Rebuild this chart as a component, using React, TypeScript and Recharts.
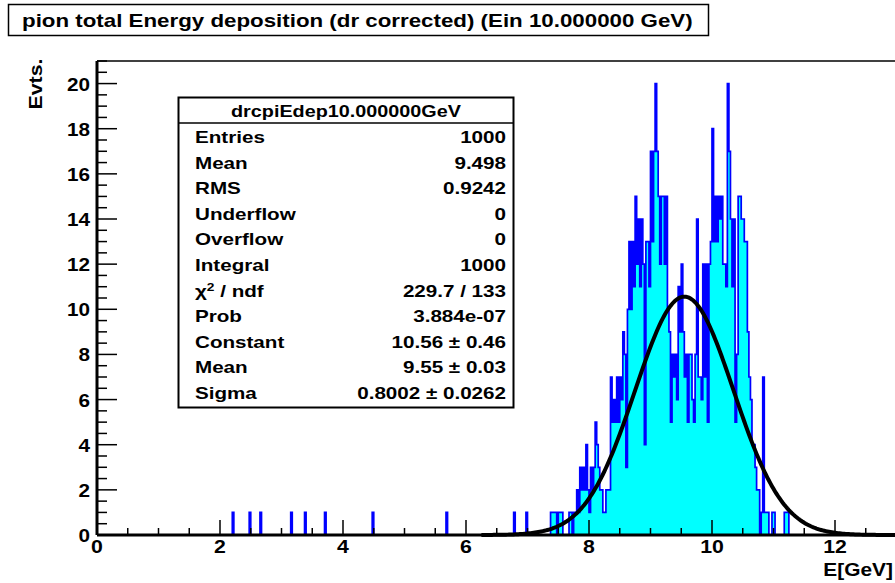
import { ComposedChart, Area, Line, XAxis, YAxis, ReferenceLine } from 'recharts';

// histogram binning: 0..13 GeV in 0.025 GeV bins
const BIN_W = 0.025;
const N_BINS = 520;
const X_MAX = 13;
const Y_MAX = 21;

// isolated single entries far below the peak (bin positions, GeV)
const tailEntries = [2.22, 2.49, 2.66, 3.15, 3.39, 3.71, 4.49, 5.69, 6.78, 6.99];

// bin contents starting at 7.2 GeV
const CORE_START = 7.2;
const coreCounts = [
  0, 0, 0, 0, 0, 0, 0, 1, 1, 1, 1, 0, 1, 1, 1, 0, 0, 0, 0, 1,
  1, 0, 1, 1, 2, 1, 3, 2, 3, 2, 4, 2, 1, 3, 2, 3, 5, 4, 3, 2,
  2, 1, 1, 2, 2, 2, 7, 5, 6, 5, 7, 5, 7, 6, 9, 8, 3, 10, 13, 10,
  13, 11, 15, 12, 14, 11, 14, 12, 4, 13, 13, 11, 17, 13, 17, 20, 17, 15, 12, 15,
  15, 12, 15, 10, 9, 5, 8, 7, 8, 6, 11, 9, 12, 9, 7, 8, 5, 8, 8, 6,
  5, 8, 14, 7, 7, 6, 12, 7, 12, 5, 12, 13, 18, 13, 15, 13, 15, 14, 15, 12,
  12, 11, 20, 17, 14, 11, 14, 5, 8, 15, 15, 14, 14, 13, 13, 9, 7, 6, 4, 4,
  3, 2, 2, 0, 1, 7, 1, 1, 1, 0, 0, 1, 1, 0, 0, 0, 0, 0, 0, 1,
  1, 1, 0, 0,
];

// gaussian fit result
const FIT_CONST = 10.56;
const FIT_MEAN = 9.55;
const FIT_SIGMA = 0.8002;
const FIT_FROM = 6.25;

const statLabels = ['Entries', 'Mean', 'RMS', 'Underflow', 'Overflow', 'Integral', 'chi2', 'Prob', 'Constant', 'Mean', 'Sigma'];
const statValues = ['1000', '9.498', '0.9242', '0', '0', '1000', '229.7 / 133', '3.884e-07', '10.56 \u00b1 0.46', '9.55 \u00b1 0.03', '0.8002 \u00b1 0.0262'];

const TITLE = 'pion total Energy deposition (dr corrected) (Ein 10.000000 GeV)';
const STAT_NAME = 'drcpiEdep10.000000GeV';

const counts = new Array(N_BINS).fill(0);
tailEntries.forEach(u => { counts[Math.floor(u / BIN_W + 1e-6)] += 1; });
const coreIdx = Math.round(CORE_START / BIN_W);
coreCounts.forEach((c, i) => { counts[coreIdx + i] += c; });

const gaus = (x: number) => FIT_CONST * Math.exp(-0.5 * ((x - FIT_MEAN) / FIT_SIGMA) ** 2);

const data = Array.from({ length: N_BINS + 1 }, (_, i) => {
  const x = i * BIN_W;
  return {
    x,
    n: i < N_BINS ? counts[i] : 0,
    fit: x >= FIT_FROM - 1e-9 ? gaus(x) : null,
  };
});

const xTicks = Array.from({ length: 27 }, (_, i) => i * 0.5);
const yTicks = Array.from({ length: 43 }, (_, i) => i * 0.5);

const FONT = '"Liberation Sans", Arial, Helvetica, sans-serif';

// bold helvetica-ish text, stretched horizontally
function SText({ x, y, size, sx = 1.12, anchor = 'start', rotate = 0, children }: any) {
  const rot = rotate ? ` rotate(${rotate})` : '';
  return (
    <text
      transform={`translate(${x},${y})${rot} scale(${sx},1)`}
      textAnchor={anchor}
      fontFamily={FONT}
      fontWeight="bold"
      fontSize={size}
      fill="#000"
    >
      {children}
    </text>
  );
}

const XTick = (props: any) => {
  const { x, y, payload } = props;
  const v = payload.value;
  const major = Math.abs(v % 2) < 1e-9;
  return (
    <g>
      <line x1={x} x2={x} y1={y} y2={y - (major ? 15 : 7)} stroke="#000" strokeWidth={1.5} />
      {major && <SText x={x} y={y + 18} size={19} anchor="middle">{v}</SText>}
    </g>
  );
};

const YTick = (props: any) => {
  const { x, y, payload } = props;
  const v = payload.value;
  const major = Math.abs(v % 2) < 1e-9 && v <= 20;
  return (
    <g>
      <line x1={x} x2={x + (major ? 20 : 10)} y1={y} y2={y} stroke="#000" strokeWidth={1.5} />
      {major && <SText x={x - 7} y={y + 7} size={18.5} anchor="end">{v}</SText>}
    </g>
  );
};

export default function App() {
  const rowY0 = 143;
  const rowStep = 25.6;
  return (
    <div style={{ position: 'fixed', left: 0, top: 0, width: 895, height: 583, overflow: 'hidden', background: '#fff' }}>
      <ComposedChart width={910} height={583} data={data} margin={{ top: 61, right: 13.5, left: 0, bottom: 0 }}>
        <Area
          type="stepAfter"
          dataKey="n"
          stroke="#0000ff"
          strokeWidth={1.7}
          fill="#00ffff"
          fillOpacity={1}
          dot={false}
          activeDot={false}
          isAnimationActive={false}
        />
        <Line
          type="linear"
          dataKey="fit"
          stroke="#000"
          strokeWidth={4}
          dot={false}
          activeDot={false}
          isAnimationActive={false}
        />
        <ReferenceLine y={Y_MAX} stroke="#000" strokeWidth={1.5} />
        <XAxis
          type="number"
          dataKey="x"
          domain={[0, X_MAX]}
          ticks={xTicks}
          interval={0}
          height={48}
          tickSize={0}
          tickMargin={0}
          tickLine={false}
          axisLine={{ stroke: '#000', strokeWidth: 3 }}
          tick={XTick}
        />
        <YAxis
          type="number"
          domain={[0, Y_MAX]}
          ticks={yTicks}
          interval={0}
          width={97}
          tickSize={0}
          tickMargin={0}
          tickLine={false}
          axisLine={{ stroke: '#000', strokeWidth: 3 }}
          tick={YTick}
        />
      </ComposedChart>

      <svg width={895} height={583} style={{ position: 'absolute', left: 0, top: 0 }}>
        {/* title box */}
        <rect x={8.5} y={4.5} width={700} height={31} fill="#fff" stroke="#000" strokeWidth={1.5} />
        <SText x={22} y={27} size={18} sx={1.24}>{TITLE}</SText>

        {/* axis titles */}
        <SText x={42} y={84} size={18.5} sx={1.15} rotate={-90} anchor="middle">Evts.</SText>
        <SText x={893} y={576} size={18.5} sx={1.13} anchor="end">E[GeV]</SText>

        {/* fit statistics box */}
        <rect x={178.5} y={97.5} width={335} height={310} fill="#fff" stroke="#000" strokeWidth={2} />
        <line x1={178.5} x2={513.5} y1={123} y2={123} stroke="#000" strokeWidth={1.5} />
        <SText x={346} y={117} size={16.5} sx={1.2} anchor="middle">{STAT_NAME}</SText>
        {statLabels.map((lab, i) => (
          <g key={i}>
            {lab === 'chi2' ? (
              <text
                transform={`translate(195,${rowY0 + i * rowStep}) scale(1.25,1)`}
                fontFamily={FONT}
                fontWeight="bold"
                fontSize={16.5}
              >
                <tspan>{'\u03c7'}</tspan>
                <tspan dy={-6} fontSize={11}>2</tspan>
                <tspan dy={6}>{' / ndf'}</tspan>
              </text>
            ) : (
              <SText x={195} y={rowY0 + i * rowStep} size={16.5} sx={1.25}>{lab}</SText>
            )}
            <SText x={506} y={rowY0 + i * rowStep} size={16.5} sx={1.25} anchor="end">{statValues[i]}</SText>
          </g>
        ))}
      </svg>
    </div>
  );
}
